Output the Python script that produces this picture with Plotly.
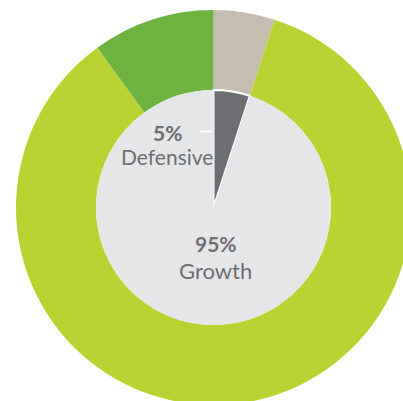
import plotly.graph_objects as go

# Data
outer_labels = ["Other", "Growth assets", "Growth alt"]
outer_values = [5, 85, 10]
outer_colors = ["#c5bdb0", "#b9d432", "#6db33f"]

inner_labels = ["Defensive", "Growth"]
inner_values = [5, 95]
inner_colors = ["#6d6e72", "#e5e6e8"]

W, H = 420, 412
CX, CY = 213.5, 207.5  # pixel centre (from top-left)
R_OUT, R_IN = 197.5, 117.5

def dom(r):
    return dict(x=[(CX - r) / W, (CX + r) / W],
                y=[(H - CY - r) / H, (H - CY + r) / H])

fig = go.Figure()
fig.add_trace(go.Pie(
    labels=outer_labels, values=outer_values, sort=False, direction="clockwise",
    rotation=0, hole=R_IN / R_OUT, domain=dom(R_OUT),
    marker=dict(colors=outer_colors, line=dict(width=0)),
    textinfo="none", hoverinfo="label+percent", showlegend=False,
))
fig.add_trace(go.Pie(
    labels=inner_labels, values=inner_values, sort=False, direction="clockwise",
    rotation=0, domain=dom(R_IN),
    marker=dict(colors=inner_colors, line=dict(color="white", width=[2, 0])),
    textinfo="none", hoverinfo="label+percent", showlegend=False,
))

txt = "#6d6e71"
fnt = "Lato, 'Open Sans', sans-serif"
def px(x):
    return x / W
def py(y):
    return 1 - y / H

anns = [
    ("<b>5%</b>", 167, 132, 21),
    ("Defensive", 167, 157, 21),
    ("<b>95%</b>", 216, 244, 21),
    ("Growth", 216, 270, 22),
]
for t, x, y, s in anns:
    fig.add_annotation(text=t, x=px(x), y=py(y), xref="paper", yref="paper",
                       showarrow=False, xanchor="center", yanchor="middle",
                       font=dict(family=fnt, size=s, color=txt))

fig.add_shape(type="line", xref="paper", yref="paper",
              x0=px(200), x1=px(212), y0=py(131.5), y1=py(131.5),
              line=dict(color="white", width=2))

fig.update_layout(width=W, height=H, margin=dict(l=0, r=0, t=0, b=0),
                  paper_bgcolor="white", plot_bgcolor="white")

fig.write_html("out.html", config={"displayModeBar": False},
               post_script="document.documentElement.style.overflow='hidden';document.body.style.overflow='hidden';document.body.style.margin='0';")
